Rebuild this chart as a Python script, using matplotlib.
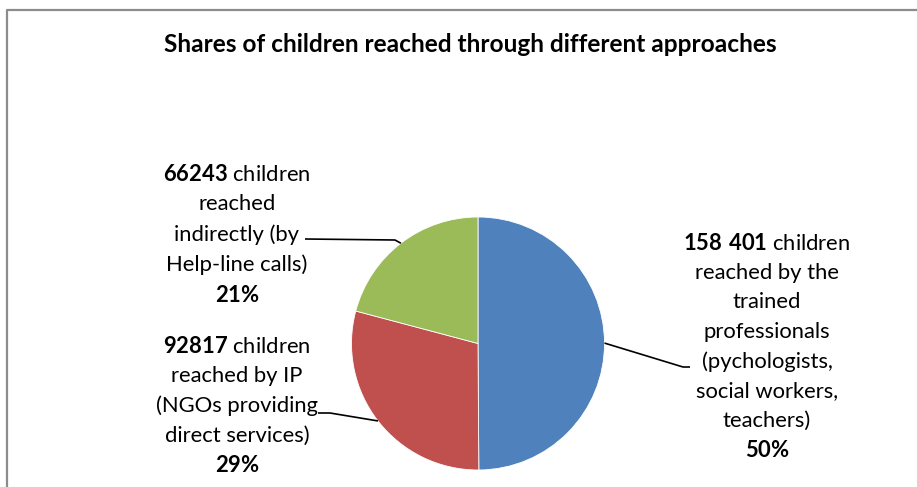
import numpy as np
import matplotlib
matplotlib.use("Agg")
import matplotlib.pyplot as plt
from matplotlib.lines import Line2D

plt.rcParams['font.family'] = ['Lato', 'DejaVu Sans']
plt.rcParams['mathtext.fontset'] = 'custom'
plt.rcParams['mathtext.rm'] = 'Lato'
plt.rcParams['mathtext.bf'] = 'Lato:bold'

# data
counts = [158401, 92817, 66243]
count_labels = ["158\\ 401", "92817", "66243"]
descriptions = [
    " children\nreached by the\ntrained\nprofessionals\n(pychologists,\nsocial workers,\nteachers)",
    " children\nreached by IP\n(NGOs providing\ndirect services)",
    " children\nreached\nindirectly (by\nHelp-line calls)",
]
colors = ["#4F81BD", "#C0504D", "#9BBB59"]
title = "Shares of children reached through different approaches"

W, H = 917, 487
fig = plt.figure(figsize=(W / 100, H / 100), dpi=100)
ax = fig.add_axes([0, 0, 1, 1])

cx, cy, r = 478, H - 343.5, 126.5
wedges, _ = ax.pie(counts, colors=colors, startangle=90, counterclock=False,
                   center=(cx, cy), radius=r, frame=True,
                   wedgeprops=dict(edgecolor="white", linewidth=0.6))
ax.set_xlim(0, W)
ax.set_ylim(0, H)
ax.set_aspect("equal")
ax.axis("off")

pcts = np.array(counts) / sum(counts) * 100

# label text centre / leader line ends (pixel coords from top)
text_pos = [(767, 347), (237, 406), (237, 235)]
elbow = [[(683, 367), (690, 367)], [(330, 413), (318, 413)], [(395, 240), (305, 239)]]

for i, w in enumerate(wedges):
    mid = np.deg2rad((w.theta1 + w.theta2) / 2)
    ax_x = cx + r * np.cos(mid)
    ax_y = cy + r * np.sin(mid)
    xs = [ax_x] + [p[0] for p in elbow[i]]
    ys = [ax_y] + [H - p[1] for p in elbow[i]]
    ax.plot(xs, ys, color="black", lw=1.2, solid_capstyle="butt")
    txt = "$\\mathbf{%s}$%s\n$\\mathbf{%d\\%%}$" % (count_labels[i], descriptions[i], round(pcts[i]))
    tx, ty = text_pos[i]
    ax.text(tx, H - ty, txt, ha="center", va="center", multialignment="center",
            fontsize=15.8, linespacing=1.58, color="black")

fig.text(470 / W, 1 - 45 / H, title, ha="center", va="center",
         fontsize=17.6, fontweight="bold")

# chart area border (left + top visible)
fig.add_artist(Line2D([7 / W, 7 / W, 1.0], [0, 1 - 9.5 / H, 1 - 9.5 / H],
                      color="#8c8c8c", lw=1.6, transform=fig.transFigure))

fig.savefig("out.png", dpi=100)
